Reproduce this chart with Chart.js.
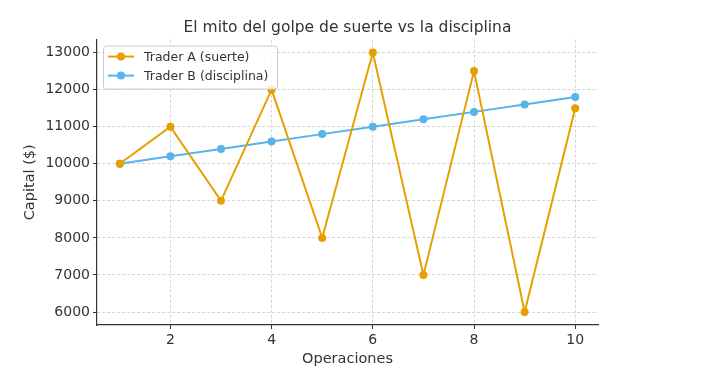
<!DOCTYPE html>
<html>
<head>
<meta charset="utf-8">
<script src="https://cdn.jsdelivr.net/npm/chart.js@4"></script>
<style>
  html, body { margin: 0; padding: 0; background: #fff; }
  #wrap { width: 709px; height: 388px; }
</style>
</head>
<body>
<div id="wrap"><canvas id="chart" width="709" height="388"></canvas></div>
<script>
// data
const operaciones = [1, 2, 3, 4, 5, 6, 7, 8, 9, 10];
const traderA = [10000, 11000, 9000, 12000, 8000, 13000, 7000, 12500, 6000, 11500];
const traderB = [10000, 10200, 10400, 10600, 10800, 11000, 11200, 11400, 11600, 11800];
const xTicks = [2, 4, 6, 8, 10];
const yTicks = [6000, 7000, 8000, 9000, 10000, 11000, 12000, 13000];
const seriesNames = ['Trader A (suerte)', 'Trader B (disciplina)'];

const FONT = "'DejaVu Sans', sans-serif";
const orange = '#E69F00';
const blue = '#56B4E9';

// legend drawn inside plot area, top-left, like matplotlib
const boxLegend = {
    id: 'boxLegend',
    afterDraw(chart) {
        const ctx = chart.ctx;
        const area = chart.chartArea;
        const x = area.left + 6, y = area.top + 6, w = 174, h = 43;
        ctx.save();
        ctx.fillStyle = 'rgba(255,255,255,0.8)';
        ctx.strokeStyle = '#cccccc';
        ctx.lineWidth = 1;
        ctx.beginPath();
        ctx.roundRect(x + 0.5, y + 0.5, w, h, 3);
        ctx.fill();
        ctx.stroke();
        ctx.font = '12.5px ' + FONT;
        ctx.textBaseline = 'middle';
        chart.data.datasets.forEach((ds, i) => {
            const ry = y + 11 + i * 19;
            ctx.strokeStyle = ds.borderColor;
            ctx.lineWidth = 2;
            ctx.beginPath();
            ctx.moveTo(x + 5, ry);
            ctx.lineTo(x + 31, ry);
            ctx.stroke();
            ctx.fillStyle = ds.borderColor;
            ctx.beginPath();
            ctx.arc(x + 18, ry, 4, 0, Math.PI * 2);
            ctx.fill();
            ctx.fillStyle = '#333';
            ctx.fillText(ds.label, x + 41, ry + 1);
        });
        ctx.restore();
    }
};

new Chart(document.getElementById('chart'), {
    type: 'line',
    data: {
        datasets: [
            {
                label: seriesNames[0],
                data: operaciones.map((o, i) => ({ x: o, y: traderA[i] })),
                borderColor: orange,
                backgroundColor: orange,
                borderWidth: 2,
                pointRadius: 4,
                pointBorderWidth: 0,
                tension: 0
            },
            {
                label: seriesNames[1],
                data: operaciones.map((o, i) => ({ x: o, y: traderB[i] })),
                borderColor: blue,
                backgroundColor: blue,
                borderWidth: 2,
                pointRadius: 4,
                pointBorderWidth: 0,
                tension: 0
            }
        ]
    },
    options: {
        responsive: false,
        animation: false,
        layout: { padding: { left: 0, right: 111, top: 0, bottom: 0 } },
        plugins: {
            legend: { display: false },
            tooltip: { enabled: false },
            title: {
                display: true,
                fullSize: false,
                text: 'El mito del golpe de suerte vs la disciplina',
                color: '#333',
                font: { family: FONT, size: 15.5, weight: 'normal' },
                padding: { top: 19, bottom: 2 }
            }
        },
        scales: {
            x: {
                type: 'linear',
                min: 0.55,
                max: 10.45,
                afterBuildTicks: s => { s.ticks = xTicks.map(v => ({ value: v })); },
                afterFit: s => { s.height = 63; },
                grid: { color: '#d5d5d5', tickColor: '#333', tickLength: 4, tickBorderDash: [] },
                border: { display: true, color: '#333', width: 1.2, dash: [3, 2] },
                ticks: { color: '#333', font: { family: FONT, size: 14 }, padding: 3, maxRotation: 0 },
                title: {
                    display: true, text: 'Operaciones', color: '#333',
                    font: { family: FONT, size: 14.5 }, padding: { top: 0, bottom: 20 }
                }
            },
            y: {
                min: 5650,
                max: 13350,
                afterBuildTicks: s => { s.ticks = yTicks.map(v => ({ value: v })); },
                afterFit: s => { s.width = 97; },
                grid: { color: '#d5d5d5', tickColor: '#333', tickLength: 4, tickBorderDash: [] },
                border: { display: true, color: '#333', width: 1.2, dash: [3, 2] },
                ticks: { color: '#333', font: { family: FONT, size: 14 }, padding: 3, callback: v => String(v) },
                title: {
                    display: true, text: 'Capital ($)', color: '#333',
                    font: { family: FONT, size: 14.5 }, padding: { top: 22, bottom: 0 }
                }
            }
        }
    },
    plugins: [boxLegend]
});
</script>
</body>
</html>
